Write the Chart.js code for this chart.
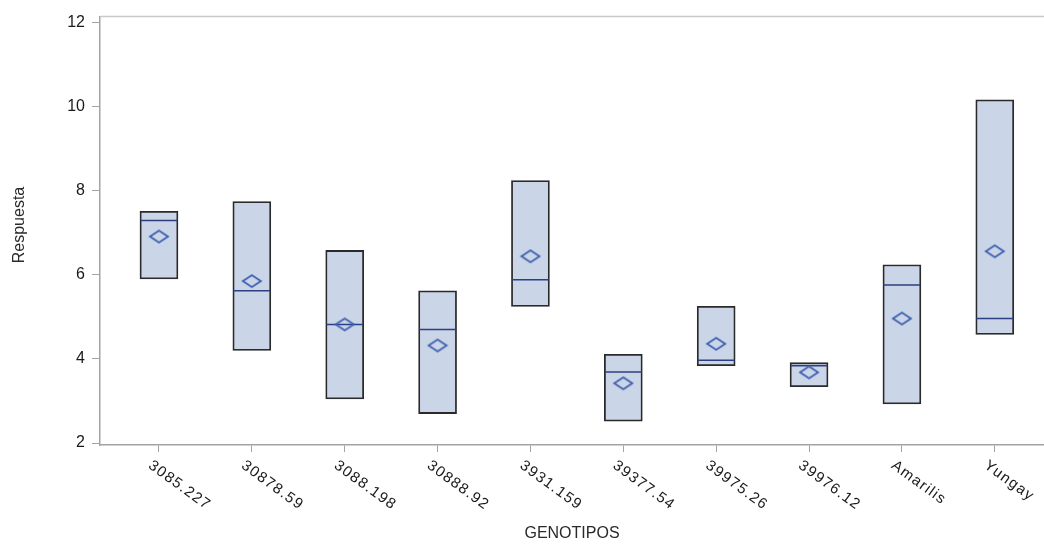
<!DOCTYPE html>
<html lang="es">
<head>
  <meta charset="UTF-8">
  <title>Respuesta por genotipo</title>
  <script src="https://cdn.jsdelivr.net/npm/chart.js"></script>
  <style>
    html, body {
      margin: 0;
      padding: 0;
      background: #fff;
      overflow: hidden;
    }
    canvas {
      display: block;
    }
  </style>
</head>
<body>
<canvas id="boxChart" width="1044" height="547"></canvas>

<script>
// datos por genotipo
const genotipos = ["3085.227", "30878.59", "3088.198", "30888.92", "3931.159",
                   "39377.54", "39975.26", "39976.12", "Amarilis", "Yungay"];
const minimos  = [5.90, 4.20, 3.05, 2.70, 5.25, 2.52, 3.84, 3.34, 2.93, 4.58];
const maximos  = [7.51, 7.74, 6.58, 5.62, 8.24, 4.11, 5.25, 3.91, 6.24, 10.16];
const medianas = [7.29, 5.62, 4.82, 4.70, 5.88, 3.69, 3.97, 3.84, 5.76, 4.96];
const medias   = [6.91, 5.85, 4.82, 4.32, 6.44, 3.42, 4.36, 3.68, 4.96, 6.56];
const yTicks   = [2, 4, 6, 8, 10, 12];

const gris = "#a3a3a3";
const fuente = "'Liberation Sans', Arial, sans-serif";

// rombo achatado para la media
function rombo() {
  const c = document.createElement("canvas");
  c.width = 22;
  c.height = 16;
  const g = c.getContext("2d");
  g.strokeStyle = "#3d5fae";
  g.lineWidth = 1.8;
  g.beginPath();
  g.moveTo(2, 8);
  g.lineTo(11, 2);
  g.lineTo(20, 8);
  g.lineTo(11, 14);
  g.closePath();
  g.stroke();
  return c;
}

// etiquetas del eje x giradas en sentido horario + titulos + borde superior
const decorado = {
  id: "decorado",
  afterDraw(chart) {
    const { ctx, chartArea, scales } = chart;
    ctx.save();
    ctx.strokeStyle = "#c9c9c9";
    ctx.lineWidth = 1.5;
    ctx.beginPath();
    ctx.moveTo(chartArea.left, chartArea.top);
    ctx.lineTo(chartArea.right, chartArea.top);
    ctx.stroke();

    ctx.fillStyle = "#1a1a1a";
    ctx.font = "15px " + fuente;
    ctx.letterSpacing = "1.3px";
    ctx.textAlign = "left";
    ctx.textBaseline = "middle";
    genotipos.forEach((g, i) => {
      const x = scales.x.getPixelForValue(i);
      ctx.save();
      ctx.translate(x - 9, scales.x.top + 19);
      ctx.rotate(36 * Math.PI / 180);
      ctx.fillText(g, 0, 0);
      ctx.restore();
    });

    ctx.letterSpacing = "0px";
    ctx.fillStyle = "#2a2a2a";
    ctx.font = "16px " + fuente;
    ctx.textAlign = "center";
    ctx.fillText("GENOTIPOS", (chartArea.left + chartArea.right) / 2, 534);

    ctx.save();
    ctx.translate(20, 225);
    ctx.rotate(-Math.PI / 2);
    ctx.font = "16px " + fuente;
    ctx.fillText("Respuesta", 0, 0);
    ctx.restore();
    ctx.restore();
  }
};

new Chart(document.getElementById("boxChart"), {
  type: "bar",
  data: {
    datasets: [
      {
        label: "Media",
        type: "scatter",
        order: 1,
        data: medias.map((v, i) => ({ x: i, y: v })),
        pointStyle: rombo(),
        pointRadius: 8
      },
      {
        label: "Mediana",
        type: "scatter",
        order: 2,
        data: medianas.map((v, i) => ({ x: i, y: v })),
        pointStyle: "line",
        pointRadius: 18.5,
        borderColor: "#2b3f82",
        borderWidth: 1.5
      },
      {
        label: "Rango",
        order: 3,
        data: minimos.map((v, i) => ({ x: i, y: [v, maximos[i]] })),
        backgroundColor: "#cbd5e8",
        borderColor: "#2a2a2a",
        borderWidth: 1.8,
        borderSkipped: false,
        barThickness: 38
      }
    ]
  },
  options: {
    responsive: false,
    animation: false,
    layout: { autoPadding: false, padding: { top: 12, right: 0, left: 0, bottom: 0 } },
    plugins: {
      legend: { display: false },
      tooltip: { enabled: false }
    },
    scales: {
      x: {
        type: "linear",
        min: -0.635,
        max: 9.53,
        offset: false,
        afterBuildTicks: s => { s.ticks = genotipos.map((g, i) => ({ value: i })); },
        afterFit: s => { s.height = 102; },
        ticks: { display: false },
        grid: { drawOnChartArea: false, offset: false, tickLength: 7, color: gris },
        border: { color: gris, width: 1.5 }
      },
      y: {
        min: 1.953,
        max: 12.14,
        afterBuildTicks: s => { s.ticks = yTicks.map(v => ({ value: v })); },
        afterFit: s => { s.width = 100; },
        ticks: {
          color: "#1a1a1a",
          padding: 7,
          font: { size: 16, family: fuente }
        },
        grid: { drawOnChartArea: false, tickLength: 8, color: gris },
        border: { color: gris, width: 1.5 }
      }
    }
  },
  plugins: [decorado]
});
</script>
</body>
</html>
